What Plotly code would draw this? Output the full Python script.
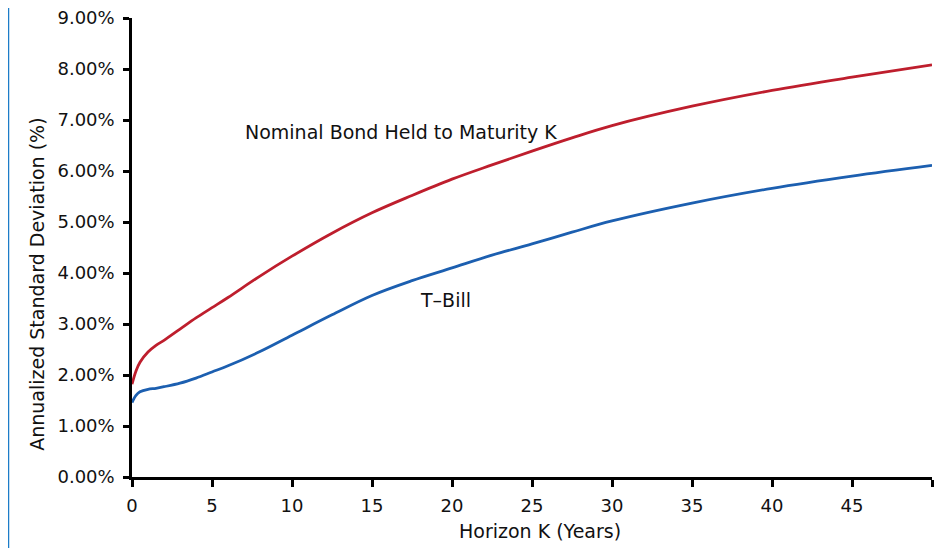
import plotly.graph_objects as go

horizon = [0, 0.25, 0.5, 1, 1.5, 2, 3, 4, 5, 6, 8, 10, 12.5, 15, 17.5, 20, 22.5, 25, 27.5, 30, 35, 40, 45, 50]
nominal_bond = [1.82, 2.08, 2.25, 2.45, 2.58, 2.68, 2.9, 3.12, 3.32, 3.52, 3.94, 4.33, 4.78, 5.18, 5.52, 5.84, 6.12, 6.39, 6.65, 6.89, 7.27, 7.58, 7.84, 8.08]
t_bill = [1.46, 1.6, 1.67, 1.72, 1.74, 1.77, 1.84, 1.94, 2.06, 2.18, 2.46, 2.78, 3.18, 3.56, 3.85, 4.1, 4.35, 4.57, 4.8, 5.02, 5.37, 5.66, 5.9, 6.11]

y_ticks = [0, 1, 2, 3, 4, 5, 6, 7, 8, 9]
y_labels = ["0.00%", "1.00%", "2.00%", "3.00%", "4.00%", "5.00%", "6.00%", "7.00%", "8.00%", "9.00%"]
x_ticks = [0, 5, 10, 15, 20, 25, 30, 35, 40, 45, 50]
x_labels = ["0", "5", "10", "15", "20", "25", "30", "35", "40", "45", ""]

FONT = "DejaVu Sans"
TXT = "#111111"

fig = go.Figure()
fig.add_trace(go.Scatter(x=horizon, y=nominal_bond, mode="lines", line=dict(color="#BE1E2D", width=2.8, shape="spline"),
                         name="Nominal Bond Held to Maturity K", showlegend=False))
fig.add_trace(go.Scatter(x=horizon, y=t_bill, mode="lines", line=dict(color="#1C5FB0", width=2.8, shape="spline"),
                         name="T-Bill", showlegend=False))

fig.add_annotation(x=0.139, y=0.7516, xref="paper", yref="paper", text="Nominal Bond Held to Maturity K",
                   showarrow=False, xanchor="left", yanchor="middle", font=dict(family=FONT, size=19, color=TXT))
fig.add_annotation(x=0.3575, y=0.3856, xref="paper", yref="paper", text="T–Bill",
                   showarrow=False, xanchor="left", yanchor="middle", font=dict(family=FONT, size=19, color=TXT))

fig.add_annotation(x=0.51, y=-0.1185, xref="paper", yref="paper", text="Horizon K (Years)",
                   showarrow=False, xanchor="center", yanchor="middle", font=dict(family=FONT, size=19, color=TXT))
fig.add_annotation(x=-0.119, y=0.4205, xref="paper", yref="paper", text="Annualized Standard Deviation (%)",
                   showarrow=False, textangle=-90, xanchor="center", yanchor="middle", font=dict(family=FONT, size=19, color=TXT))

fig.add_shape(type="line", xref="paper", yref="paper", x0=-0.155, x1=-0.155, y0=-0.2, y1=1.05,
              line=dict(color="#1C7CC8", width=2.5))

fig.update_layout(
    width=945, height=548,
    margin=dict(l=124, r=21, t=10, b=79, autoexpand=False),
    paper_bgcolor="white", plot_bgcolor="white",
    font=dict(family=FONT, size=18, color=TXT),
)
fig.update_xaxes(range=[0, 50], tickvals=x_ticks, ticktext=x_labels, showgrid=False, zeroline=False,
                 showline=True, linecolor="black", linewidth=2.5, ticks="outside", ticklen=7, tickwidth=2.5,
                 tickcolor="black", tickfont=dict(family=FONT, size=18, color=TXT),
                 ticklabelstandoff=4, ticklabeloverflow="allow", automargin=False)
fig.update_yaxes(range=[0, 9], tickvals=y_ticks, ticktext=y_labels, showgrid=False, zeroline=False,
                 showline=True, linecolor="black", linewidth=2.5, ticks="outside", ticklen=6, tickwidth=2.5,
                 tickcolor="black", tickfont=dict(family=FONT, size=18, color=TXT),
                 ticklabelstandoff=5, ticklabeloverflow="allow", automargin=False)

fig.write_html("out.html")
